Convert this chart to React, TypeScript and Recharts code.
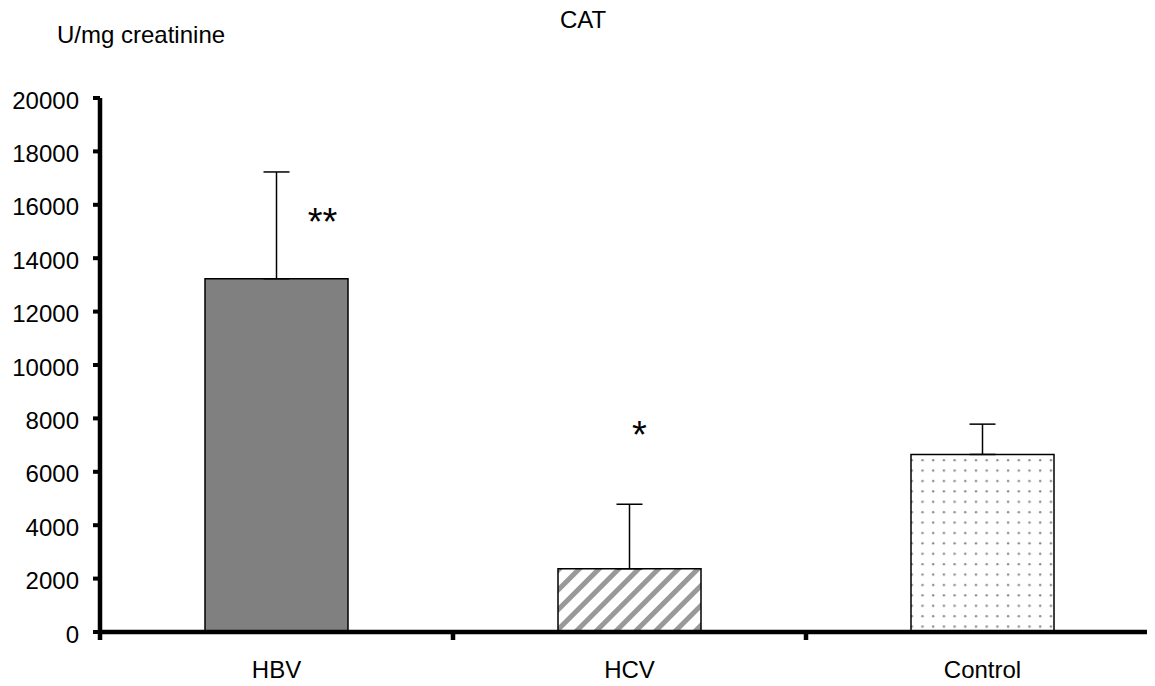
import React from "react";
import { ComposedChart, Bar, Cell, XAxis, YAxis, ErrorBar, Scatter } from "recharts";

const categories = ["HBV", "HCV", "Control"];
const means = [13230, 2370, 6650];
const sdUpper = [4000, 2415, 1135];
const sigLabels = ["**", "*", ""];
const sigLevels = [15670, 7690, null];
const yTicks = [0, 2000, 4000, 6000, 8000, 10000, 12000, 14000, 16000, 18000, 20000];

const FONT = "'Liberation Sans', Arial, sans-serif";
const FILLS = ["#808080", "url(#hatchPat)", "url(#dotPat)"];
const SIG_DX = [46, 10, 0];

const data = categories.map((name, i) => ({
  name,
  mean: means[i],
  err: [0, sdUpper[i]],
  sig: sigLabels[i],
  sigY: sigLevels[i],
}));

const XTick = (props: any) => {
  const { x, y, payload } = props;
  const off = payload && typeof payload.offset === "number" ? payload.offset : 0;
  return (
    <g>
      <line x1={x - off} x2={x - off} y1={y} y2={y + 8} stroke="#000" strokeWidth={4.5} />
      <text x={x} y={y + 46} textAnchor="middle" fontSize={24} fill="#000" fontFamily={FONT}>
        {payload.value}
      </text>
    </g>
  );
};

const SigShape = (props: any) => {
  const { cx, cy, payload, index } = props;
  if (!payload || !payload.sig || cx == null || cy == null || isNaN(cy)) return <g />;
  const i = categories.indexOf(payload.name);
  return (
    <text
      x={cx + SIG_DX[i >= 0 ? i : index]}
      y={cy + 21}
      textAnchor="middle"
      fontSize={38}
      fill="#000"
      fontFamily={FONT}
    >
      {payload.sig}
    </text>
  );
};

export default function App() {
  return (
    <div
      style={{
        position: "relative",
        margin: "-8px 0 0 -8px",
        width: 1155,
        height: 686,
        overflow: "hidden",
        background: "#fff",
      }}
    >
      <svg width={0} height={0} style={{ position: "absolute" }}>
        <defs>
          <pattern id="hatchPat" patternUnits="userSpaceOnUse" width={14} height={14} patternTransform="rotate(45)">
            <rect x={0} y={0} width={14} height={14} fill="#fff" />
            <rect x={0} y={0} width={5} height={14} fill="#999" />
          </pattern>
          <pattern id="dotPat" patternUnits="userSpaceOnUse" width={10.7} height={10.4}>
            <rect x={0} y={0} width={10.7} height={10.4} fill="#fff" />
            <circle cx={5} cy={5} r={1.2} fill="#8a8a8a" />
          </pattern>
        </defs>
      </svg>
      <div style={{ position: "absolute", left: 8, top: 8, width: 1153, height: 678 }}>
        <ComposedChart
          width={1153}
          height={678}
          data={data}
          style={{ maxWidth: "none" }}
          margin={{ top: 90, right: 2, left: 0, bottom: 14 }}
        >
          <XAxis
            dataKey="name"
            height={40}
            axisLine={{ stroke: "#000", strokeWidth: 4.5 }}
            tickLine={false}
            tickSize={0}
            tickMargin={0}
            tick={<XTick />}
            interval={0}
          />
          <YAxis
            width={92}
            domain={[0, 20000]}
            ticks={yTicks}
            interval={0}
            axisLine={{ stroke: "#000", strokeWidth: 4.5 }}
            tickLine={{ stroke: "#000", strokeWidth: 4 }}
            tickSize={7}
            tickMargin={14}
            tick={{ fill: "#000", fontSize: 24, fontFamily: FONT, dy: 2 }}
            allowDataOverflow
          />
          <Bar dataKey="mean" barSize={143} stroke="#000" strokeWidth={1.5} isAnimationActive={false}>
            {data.map((d, i) => (
              <Cell key={d.name} fill={FILLS[i]} />
            ))}
            <ErrorBar dataKey="err" direction="y" width={13} stroke="#000" strokeWidth={1.5} />
          </Bar>
          <Scatter dataKey="sigY" shape={<SigShape />} isAnimationActive={false} />
        </ComposedChart>
      </div>
      <svg
        width={1155}
        height={686}
        style={{ position: "absolute", left: 0, top: 0, pointerEvents: "none" }}
      >
        <text x={583} y={28} textAnchor="middle" fontSize={24} fill="#000" fontFamily={FONT}>
          CAT
        </text>
        <text x={57} y={43} textAnchor="start" fontSize={24} fill="#000" fontFamily={FONT}>
          U/mg creatinine
        </text>
      </svg>
    </div>
  );
}
